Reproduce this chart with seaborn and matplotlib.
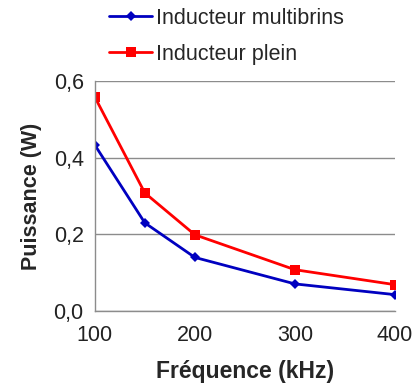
import pandas as pd
import matplotlib
matplotlib.use('Agg')
import matplotlib.pyplot as plt
import seaborn as sns

# Data
freq = [100, 150, 200, 300, 400]
multibrins = [0.433, 0.230, 0.140, 0.071, 0.043]
plein = [0.558, 0.308, 0.199, 0.108, 0.069]

df = pd.DataFrame({
    'freq': freq * 2,
    'power': multibrins + plein,
    'serie': ['Inducteur multibrins'] * 5 + ['Inducteur plein'] * 5,
})

sns.set_style('white')
plt.rcParams['font.family'] = ['Liberation Sans', 'DejaVu Sans']

fig = plt.figure(figsize=(4.14, 3.87), dpi=100)
ax = fig.add_axes([0.229, 0.196, 0.725, 0.595])

sns.lineplot(data=df, x='freq', y='power', hue='serie', style='serie',
             palette={'Inducteur multibrins': '#0000c0', 'Inducteur plein': '#ff0000'},
             markers={'Inducteur multibrins': 'D', 'Inducteur plein': 's'},
             dashes=False, linewidth=2,
             markersize=7.5, markeredgewidth=0, ax=ax)
for line in ax.lines:
    if line.get_marker() == 'D':
        line.set_markersize(5.5)

ax.set_xlim(100, 400)
ax.set_ylim(0, 0.6)
ax.set_xticks([100, 200, 300, 400])
ax.set_yticks([0, 0.2, 0.4, 0.6])
ax.set_yticklabels(['0,0', '0,2', '0,4', '0,6'])
ax.yaxis.grid(True, color='#8c8c8c', linewidth=1)
ax.set_axisbelow(True)
for s in ['top', 'right']:
    ax.spines[s].set_visible(False)
for s in ['left', 'bottom']:
    ax.spines[s].set_color('#8c8c8c')
    ax.spines[s].set_linewidth(1)
ax.tick_params(axis='both', length=6, width=1, color='#8c8c8c',
               labelsize=15.5, labelcolor='#222222', direction='out')
ax.tick_params(axis='x', pad=4)
ax.tick_params(axis='y', pad=2)
ax.set_xlabel('Fréquence (kHz)', fontsize=16.5, fontweight='bold', labelpad=10)
ax.set_ylabel('Puissance (W)', fontsize=15.5, fontweight='bold', labelpad=8)

ax.legend(loc='upper left', bbox_to_anchor=(0.02, 1.355), frameon=False,
          fontsize=15.5, handlelength=2.0, handletextpad=0.15, labelspacing=0.7,
          borderaxespad=0)

fig.savefig('out.png', dpi=100)
